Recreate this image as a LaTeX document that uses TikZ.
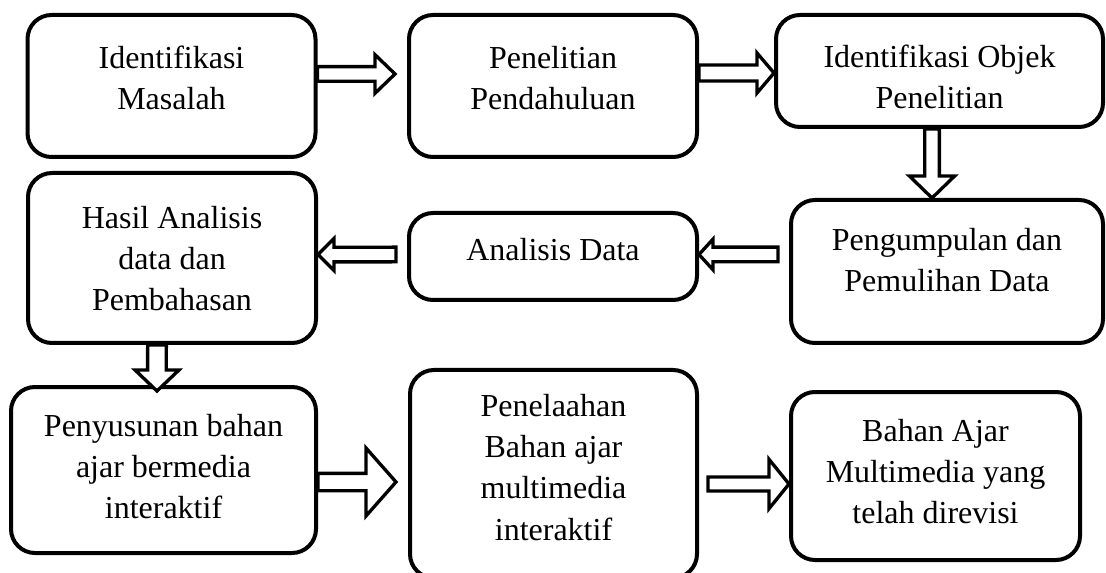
\documentclass[tikz,border=0pt]{standalone}
\usepackage{fontspec}
\setmainfont{Liberation Serif}
\usetikzlibrary{calc}

% invisible rule fixing the height of a first line
\newcommand{\firstline}{\rule{0pt}{21.7pt}}

\tikzset{
  arrshaft/.store in=\arrshaft, arrhead/.store in=\arrhead, arrlen/.store in=\arrlen,
  arrshaft=6pt, arrhead=16pt, arrlen=15pt,
  flowbox/.style={draw, line width=3pt, rounded corners=18pt, inner sep=0pt},
  flowtext/.style={align=center, anchor=north, inner sep=0pt,
    font=\fontsize{24pt}{31pt}\selectfont},
  blockarrow/.style={draw, fill=white, line width=2.5pt, to path={
    let \p1=(\tikztostart), \p2=(\tikztotarget),
        \n1={atan2(\y2-\y1,\x2-\x1)}, \n2={veclen(\x2-\x1,\y2-\y1)} in
    {[shift={(\p1)}, rotate=\n1]
      (0pt,\arrshaft) -- (\n2-\arrlen,\arrshaft) -- (\n2-\arrlen,\arrhead)
      -- (\n2,0pt) -- (\n2-\arrlen,-\arrhead) -- (\n2-\arrlen,-\arrshaft)
      -- (0pt,-\arrshaft) -- cycle}}}
}

\begin{document}
\begin{tikzpicture}[x=0.75pt,y=-0.75pt]
\useasboundingbox (0,0) rectangle (1106,573);

% top row
\node[flowbox, minimum width=216pt, minimum height=106.5pt] (masalah) at (171.5,86) {};
\node[flowbox, minimum width=216pt, minimum height=106.5pt] (pendahuluan) at (553,86) {};
\node[flowbox, minimum width=245.25pt, minimum height=84pt] (objek) at (939.5,71) {};
\node[flowtext] (masalah-t) at (171.5,39) {\firstline Identifikasi\\Masalah};
\node[flowtext] (pendahuluan-t) at (553,39) {\firstline Penelitian\\Pendahuluan};
\node[flowtext] (objek-t) at (939.5,38) {\firstline Identifikasi Objek\\Penelitian};

% middle row
\node[flowbox, minimum width=234pt, minimum height=107.25pt] (pengumpulan) at (947,271.5) {};
\node[flowbox, minimum width=216pt, minimum height=65.25pt] (analisis) at (553,256.5) {};
\node[flowbox, minimum width=216pt, minimum height=127.5pt] (hasil) at (172,258) {};
\node[flowtext] (pengumpulan-t) at (947,221.1) {\firstline Pengumpulan dan\\Pemulihan Data};
\node[flowtext] (analisis-t) at (553,231.1) {\firstline Analisis Data};
\node[flowtext] (hasil-t) at (172,199) {\firstline Hasil Analisis\\data dan\\Pembahasan};

% bottom row
\node[flowbox, minimum width=228.75pt, minimum height=124.5pt] (penyusunan) at (163.5,470) {};
\node[flowbox, minimum width=215.25pt, minimum height=156pt] (penelaahan) at (553.5,474) {};
\node[flowbox, minimum width=216.75pt, minimum height=126pt] (revisi) at (935.5,476) {};
\node[flowtext] (penyusunan-t) at (163.5,407) {\firstline Penyusunan bahan\\ajar bermedia\\interaktif};
\node[flowtext] (penelaahan-t) at (553.5,387) {\firstline Penelaahan\\Bahan ajar\\multimedia\\interaktif};
\node[flowtext] (revisi-t) at (935.5,412) {\firstline Bahan Ajar\\Multimedia yang\\telah direvisi};

% arrows
\draw[blockarrow, arrshaft=5.5pt, arrhead=14.5pt, arrlen=15pt]
  ([yshift=9pt]masalah.east) to ([xshift=-9pt,yshift=9pt]pendahuluan.west);
\draw[blockarrow, arrshaft=6pt, arrhead=15pt, arrlen=12.75pt]
  ([yshift=9.75pt]pendahuluan.east) to ([yshift=-1.5pt]objek.west);
\draw[blockarrow, arrshaft=5.5pt, arrhead=17pt, arrlen=16.5pt]
  ([xshift=-5.6pt]objek.south) to ([xshift=-11.25pt]pengumpulan.north);
\draw[blockarrow, arrshaft=5.5pt, arrhead=11.5pt, arrlen=10.5pt]
  ([xshift=-8.25pt,yshift=12.75pt]pengumpulan.west) to ([yshift=1.5pt]analisis.east);
\draw[blockarrow, arrshaft=5.5pt, arrhead=12pt, arrlen=12pt]
  ([xshift=-8.25pt,yshift=1.5pt]analisis.west) to ([yshift=2.6pt]hasil.east);
\draw[blockarrow, arrshaft=7pt, arrhead=16.5pt, arrlen=15.75pt]
  ([xshift=-11.25pt]hasil.south) to ([xshift=-4.9pt,yshift=-4.5pt]penyusunan.north);
\draw[blockarrow, arrshaft=6.5pt, arrhead=25.5pt, arrlen=22.5pt]
  ([yshift=-9pt]penyusunan.east) to ([xshift=-9pt,yshift=-6pt]penelaahan.west);
\draw[blockarrow, arrshaft=5.25pt, arrhead=18.5pt, arrlen=15pt]
  ([xshift=6.75pt,yshift=-7.5pt]penelaahan.east) to ([yshift=-6pt]revisi.west);
\end{tikzpicture}
\end{document}
